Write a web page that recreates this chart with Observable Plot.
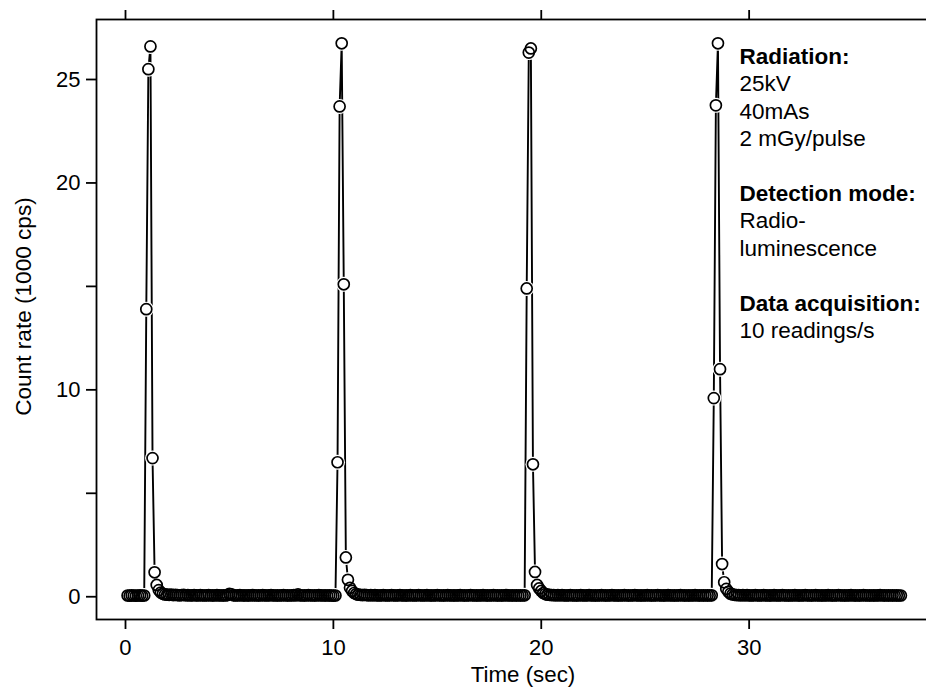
<!DOCTYPE html>
<html>
<head>
<meta charset="utf-8">
<script src="https://cdn.jsdelivr.net/npm/d3@7"></script>
<script src="https://cdn.jsdelivr.net/npm/@observablehq/plot@0.6"></script>
<style>
  html, body { margin: 0; padding: 0; background: #fff; overflow: hidden; }
  #chart svg { display: block; }
</style>
</head>
<body>
<div id="chart"></div>
<script>
// ---- Data (count rate in 1000 cps, one reading every 0.1 s) ----
const startTime = 0.1;          // s, first reading
const readingsPerSecond = 10;   // "10 readings/s"

const base0 = [0.06,0.05,0.07,0.06,0.05,0.06,0.07,0.05,0.06];
const pulse1 = [13.9,25.5,26.6,6.7,1.18,0.57,0.32,0.2,0.14];
const base1 = [
  0.11,0.10,0.09,0.10,0.08,0.09,0.08,0.07,0.08,0.09,
  0.07,0.08,0.06,0.07,0.08,0.07,0.06,0.08,0.07,0.06,
  0.07,0.08,0.06,0.07,0.06,0.08,0.07,0.06,0.07,0.06,
  0.08,0.14,0.12,0.07,0.06,0.07,0.08,0.06,0.07,0.06,
  0.07,0.06,0.08,0.07,0.06,0.07,0.06,0.08,0.07,0.06,
  0.07,0.08,0.07,0.06,0.07,0.06,0.07,0.08,0.06,0.07,
  0.06,0.07,0.08,0.06,0.11,0.07,0.06,0.07,0.06,0.08,
  0.07,0.06,0.07,0.06,0.08,0.07,0.06,0.07,0.06,0.07,
  0.06,0.05,0.06];
const pulse2 = [6.5,23.7,26.75,15.1,1.9,0.82,0.43,0.28,0.18,0.13];
const base2 = [
  0.10,0.09,0.08,0.09,0.08,0.07,0.08,0.07,0.08,0.07,
  0.06,0.07,0.08,0.07,0.06,0.07,0.08,0.07,0.06,0.07,
  0.08,0.07,0.06,0.07,0.06,0.08,0.07,0.06,0.07,0.08,
  0.07,0.06,0.07,0.08,0.06,0.07,0.06,0.07,0.08,0.07,
  0.06,0.07,0.06,0.08,0.07,0.06,0.07,0.06,0.07,0.08,
  0.06,0.07,0.06,0.07,0.08,0.07,0.06,0.07,0.06,0.07,
  0.08,0.06,0.07,0.06,0.07,0.08,0.06,0.07,0.06,0.07,
  0.06,0.08,0.07,0.06,0.07,0.06,0.07,0.06,0.07,0.06,
  0.07];
const pulse3 = [14.9,26.3,26.5,6.4,1.2,0.57,0.4,0.28,0.18,0.13];
const base3 = [
  0.10,0.09,0.08,0.08,0.07,0.08,0.07,0.08,0.07,0.06,
  0.07,0.08,0.07,0.06,0.07,0.06,0.08,0.07,0.06,0.07,
  0.08,0.07,0.06,0.07,0.06,0.07,0.08,0.06,0.07,0.06,
  0.07,0.08,0.07,0.06,0.07,0.06,0.07,0.08,0.06,0.07,
  0.06,0.07,0.08,0.07,0.06,0.07,0.06,0.07,0.08,0.06,
  0.07,0.06,0.07,0.08,0.07,0.06,0.07,0.06,0.08,0.07,
  0.06,0.07,0.06,0.07,0.08,0.06,0.07,0.06,0.07,0.06,
  0.07,0.08,0.06,0.07,0.06,0.07,0.06,0.07,0.06,0.07];
const pulse4 = [9.6,23.75,26.75,11.0,1.58,0.7,0.38,0.24,0.15,0.11];
const base4 = [
  0.09,0.08,0.08,0.07,0.08,0.07,0.08,0.07,0.06,0.07,
  0.08,0.07,0.06,0.07,0.08,0.07,0.06,0.07,0.06,0.08,
  0.07,0.06,0.07,0.08,0.07,0.06,0.07,0.06,0.07,0.08,
  0.06,0.07,0.06,0.07,0.08,0.07,0.06,0.07,0.06,0.08,
  0.07,0.06,0.07,0.06,0.07,0.08,0.06,0.07,0.06,0.07,
  0.08,0.07,0.06,0.07,0.06,0.07,0.08,0.06,0.07,0.06,
  0.07,0.06,0.08,0.07,0.06,0.07,0.06,0.07,0.06,0.07,
  0.08,0.06,0.07,0.06,0.07,0.06,0.07,0.06,0.07,0.06,
  0.06];

const xTicks = [0, 10, 20, 30];
const yTicks = [0, 5, 10, 15, 20, 25];
const yTickLabels = [0, 10, 20, 25];

const xLabel = "Time (sec)";
const yLabel = "Count rate (1000 cps)";
const noteHeadings = ["Radiation:", "", "", "", "", "Detection mode:", "", "", "", "Data acquisition:"];
const noteLines = ["", "25kV", "40mAs", "2 mGy/pulse", "", "", "Radio-", "luminescence", "", "", "10 readings/s"];

// ---- Build table ----
const counts = [...base0, ...pulse1, ...base1, ...pulse2, ...base2, ...pulse3, ...base3, ...pulse4, ...base4];
const data = counts.map((c, i) => ({t: startTime + i / readingsPerSecond, c}));

const font = "'Liberation Sans', Arial, Helvetica, sans-serif";

const chart = Plot.plot({
  width: 926,
  height: 689,
  marginLeft: 96,
  marginRight: -1,
  marginTop: 19,
  marginBottom: 70,
  style: {fontFamily: font, fontSize: "22px", color: "black", background: "white"},
  x: {domain: [-1.395, 38.58]},
  y: {domain: [-1.1, 27.9]},
  marks: [
    Plot.frame({stroke: "black", strokeWidth: 1.8}),
    Plot.axisX({anchor: "bottom", ticks: xTicks, tickSize: 10, tickPadding: 10, strokeWidth: 1.8, fontSize: 22, label: null}),
    Plot.axisX({anchor: "top", ticks: xTicks, tickSize: 10, strokeWidth: 1.8, tickFormat: () => "", label: null}),
    Plot.axisY({anchor: "left", ticks: yTicks, tickSize: 10, tickPadding: 6, strokeWidth: 1.8, fontSize: 22,
      tickFormat: d => yTickLabels.includes(d) ? String(d) : "", label: null}),
    Plot.line(data, {x: "t", y: "c", stroke: "black", strokeWidth: 1.9}),
    Plot.dot(data, {x: "t", y: "c", r: 7.5, fill: "white", stroke: null}),
    Plot.dot(data, {x: "t", y: "c", r: 5.5, fill: "none", stroke: "black", strokeWidth: 1.7}),
    Plot.text([xLabel], {frameAnchor: "bottom", text: d => d, textAnchor: "middle", dx: 11, dy: 55, fontSize: 22.3, lineAnchor: "middle"}),
    Plot.text([yLabel], {frameAnchor: "left", text: d => d, textAnchor: "middle", rotate: -90, dx: -73, dy: -13, fontSize: 22.6, lineAnchor: "middle"}),
    Plot.text([noteHeadings.join("\n")], {frameAnchor: "top-left", text: d => d, textAnchor: "start", lineAnchor: "top",
      dx: 643, dy: 25, fontSize: 22.5, fontWeight: "bold", lineHeight: 1.218}),
    Plot.text([noteLines.join("\n")], {frameAnchor: "top-left", text: d => d, textAnchor: "start", lineAnchor: "top",
      dx: 643, dy: 25, fontSize: 22.5, lineHeight: 1.218})
  ]
});
document.getElementById("chart").append(chart);
</script>
</body>
</html>
